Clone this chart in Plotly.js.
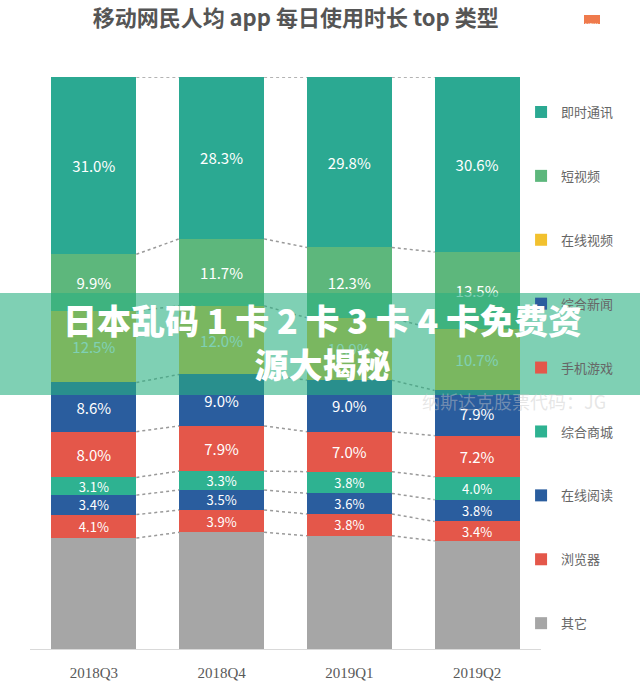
<!DOCTYPE html>
<html>
<head>
<meta charset="utf-8">
<script src="https://cdn.plot.ly/plotly-3.0.1.min.js"></script>
<style>
  html, body { margin: 0; padding: 0; background: #fff; }
  #chart { width: 640px; height: 689px; }
</style>
</head>
<body>
<div id="chart"></div>
<script>
// quarters on the x axis
const quarters = ["2018Q3", "2018Q4", "2019Q1", "2019Q2"];

// share of daily app time, %, top of the bar first
const imValues = [31.0, 28.3, 29.8, 30.6];        // 即时通讯
const shortVideoValues = [9.9, 11.7, 12.3, 13.5]; // 短视频
const onlineVideoValues = [12.5, 12.0, 10.9, 10.7]; // 在线视频
const newsValues = [8.6, 9.0, 9.0, 7.9];          // 综合新闻
const gameValues = [8.0, 7.9, 7.0, 7.2];          // 手机游戏
const mallValues = [3.1, 3.3, 3.8, 4.0];          // 综合商城
const readingValues = [3.4, 3.5, 3.6, 3.8];       // 在线阅读
const browserValues = [4.1, 3.9, 3.8, 3.4];       // 浏览器
const otherValues = [19.4, 20.4, 19.8, 18.9];     // 其它

// stacking goes bottom up, legend goes top down
const series = [
    { name: "其它", values: otherValues, color: "#a6a6a6", label: false },
    { name: "浏览器", values: browserValues, color: "#e4574a", label: true, size: 13 },
    { name: "在线阅读", values: readingValues, color: "#2a5d9e", label: true, size: 13 },
    { name: "综合商城", values: mallValues, color: "#2eb291", label: true, size: 13 },
    { name: "手机游戏", values: gameValues, color: "#e4574a", label: true, size: 15 },
    { name: "综合新闻", values: newsValues, color: "#2a5d9e", label: true, size: 15 },
    { name: "在线视频", values: onlineVideoValues, color: "#f2c12e", label: true, size: 15 },
    { name: "短视频", values: shortVideoValues, color: "#5db77c", label: true, size: 15 },
    { name: "即时通讯", values: imValues, color: "#2ba992", label: true, size: 15 }
];

const xs = quarters.map((q, i) => i);
const barWidth = 0.665;

let traces = [];
series.forEach((s, k) => {
    traces.push({
        type: "bar",
        name: s.name,
        legendgroup: s.name,
        legendrank: series.length - k,
        x: xs,
        y: s.values,
        width: barWidth,
        marker: { color: s.color, line: { width: 0 } },
        text: s.label ? s.values.map(v => v.toFixed(1) + "%") : null,
        textposition: s.label ? "inside" : "none",
        insidetextanchor: "middle",
        textangle: 0,
        constraintext: "none",
        textfont: { color: "#ffffff", size: s.size || 15, family: "Noto Sans CJK SC" },
        hoverinfo: "name+y"
    });
});

// dotted connectors between neighbouring bars at every segment edge
let cum = xs.map(() => 0);
series.forEach(s => {
    cum = cum.map((c, i) => c + s.values[i]);
    let lx = [], ly = [];
    for (let i = 0; i < xs.length - 1; i++) {
        lx.push(xs[i] + barWidth / 2, xs[i + 1] - barWidth / 2, null);
        ly.push(cum[i], cum[i + 1], null);
    }
    traces.push({
        type: "scatter",
        mode: "lines",
        x: lx,
        y: ly,
        line: { color: "#9a9a9a", width: 1.5, dash: "dot" },
        showlegend: false,
        hoverinfo: "skip"
    });
});

const layout = {
    width: 640,
    height: 689,
    margin: { l: 30, r: 99, t: 77, b: 40 },
    paper_bgcolor: "#ffffff",
    plot_bgcolor: "#ffffff",
    barmode: "stack",
    bargap: 0.33,
    font: { family: "Noto Sans CJK SC", color: "#666" },
    title: {
        text: "移动网民人均 app 每日使用时长 top 类型",
        x: 0.462,
        xref: "container",
        xanchor: "center",
        y: 0.974,
        yref: "container",
        yanchor: "middle",
        font: { size: 22, color: "#555", family: "Noto Sans CJK SC", weight: "bold" }
    },
    xaxis: {
        range: [-0.5, 3.5],
        tickvals: xs,
        ticktext: quarters,
        showgrid: false,
        zeroline: false,
        showline: true,
        linecolor: "#d9d9d9",
        linewidth: 1,
        ticks: "",
        ticklabelstandoff: 10,
        tickfont: { family: "Liberation Serif", size: 15, color: "#595959" },
        fixedrange: true
    },
    yaxis: {
        range: [0, 100],
        visible: false,
        fixedrange: true
    },
    legend: {
        x: 0.961,
        xanchor: "left",
        y: 0.965,
        yanchor: "top",
        traceorder: "grouped",
        tracegroupgap: 44,
        font: { size: 13, color: "#666", family: "Noto Sans CJK SC" },
        itemwidth: 30,
        bgcolor: "rgba(0,0,0,0)"
    },
    shapes: [
        // translucent green banner across the middle
        {
            type: "rect", xref: "paper", yref: "paper",
            x0: -0.06, x1: 1.2,
            y0: (649 - 395) / 572, y1: (649 - 293) / 572,
            fillcolor: "rgba(42,177,130,0.6)",
            line: { width: 0 },
            layer: "above"
        },
        // small "NEW" tag top right
        {
            type: "rect", xref: "paper", yref: "paper",
            x0: (584 - 30) / 511, x1: (600 - 30) / 511,
            y0: (649 - 24) / 572, y1: (649 - 15) / 572,
            fillcolor: "#ef7a4c",
            line: { width: 0 }
        }
    ],
    annotations: [
        {
            text: "NEW",
            xref: "paper", yref: "paper",
            x: (592 - 30) / 511, y: (649 - 19.5) / 572,
            xanchor: "center",
            showarrow: false,
            font: { size: 6, color: "#ffffff" }
        },
        {
            text: "纳斯达克股票代码：JG",
            xref: "paper", yref: "paper",
            x: (514 - 30) / 511, y: (649 - 401) / 572,
            xanchor: "center", yanchor: "middle",
            showarrow: false,
            font: { size: 18, color: "rgba(200,200,200,0.45)" }
        },
        {
            text: "日本乱码 1 卡 2 卡 3 卡 4 卡免费资<br>源大揭秘",
            xref: "paper", yref: "paper",
            x: (322 - 30) / 511, y: (649 - 341) / 572,
            xanchor: "center", yanchor: "middle",
            align: "center",
            showarrow: false,
            font: { size: 34, color: "#ffffff", family: "Noto Sans CJK SC", weight: 900 }
        }
    ]
};

Plotly.newPlot("chart", traces, layout, { displayModeBar: false, staticPlot: true });
</script>
</body>
</html>
